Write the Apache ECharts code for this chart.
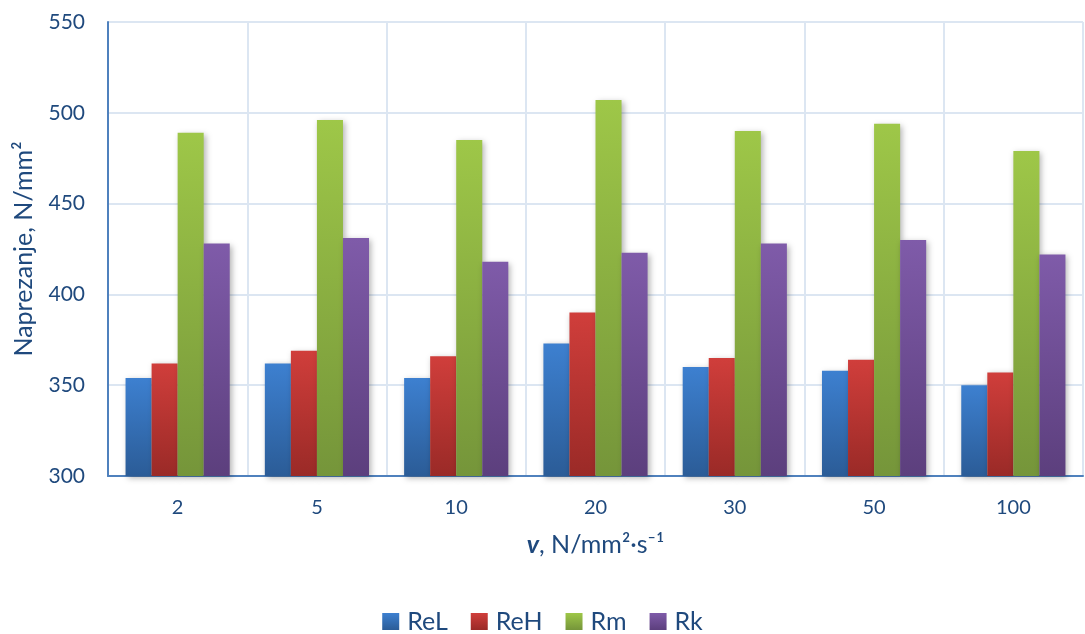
<!DOCTYPE html>
<html><head><meta charset="utf-8">
<script src="https://cdn.jsdelivr.net/npm/echarts@6/dist/echarts.min.js"></script>
<style>html,body{margin:0;padding:0;background:#fff}#c{width:1085px;height:634px}</style>
</head><body><div id="c"></div>
<script>
var categories = ['2', '5', '10', '20', '30', '50', '100'];
var seriesNames = ['ReL', 'ReH', 'Rm', 'Rk'];
var ReL = [354, 362, 354, 373, 360, 358, 350];
var ReH = [362, 369, 366, 390, 365, 364, 357];
var Rm  = [489, 496, 485, 507, 490, 494, 479];
var Rk  = [428, 431, 418, 423, 428, 430, 422];
var yTicks = [300, 350, 400, 450, 500, 550];

var values = [ReL, ReH, Rm, Rk];
var grads = [['#3d80d0', '#2b5c97'], ['#d03e3b', '#9a2a27'], ['#9ec748', '#75953a'], ['#7f5ba9', '#5c3f7d']];
var txt = '#1f497d';
var font = 'Lato, "Open Sans", sans-serif';

var chart = echarts.init(document.getElementById('c'));
chart.setOption({
  animation: false,
  textStyle: { fontFamily: font },
  grid: { left: 108, right: 2, top: 22, bottom: 158, containLabel: false, outerBoundsMode: 'none' },
  legend: {
    data: seriesNames, top: 604, left: 'center',
    itemWidth: 17, itemHeight: 17, itemGap: 23, icon: 'rect',
    textStyle: { color: txt, fontSize: 25, fontFamily: font, padding: [0, 0, 0, 3] }
  },
  xAxis: {
    type: 'category', data: categories,
    axisLine: { lineStyle: { color: '#4f81bd', width: 2 } },
    axisTick: { show: false },
    axisLabel: { color: txt, fontSize: 20, margin: 22, fontFamily: font },
    splitLine: { show: true, lineStyle: { color: '#dce6f2', width: 2 } },
    name: '{b|v}{n|, N/mm²·s⁻¹}', nameLocation: 'middle', nameGap: 56,
    nameTextStyle: { rich: {
      b: { fontWeight: 'bold', fontStyle: 'italic', fontSize: 25, color: txt, fontFamily: font },
      n: { fontSize: 25, color: txt, fontFamily: font }
    } }
  },
  yAxis: {
    type: 'value', min: 300, max: 550, interval: 50,
    axisLine: { show: true, lineStyle: { color: '#4f81bd', width: 2 } },
    axisTick: { show: false },
    axisLabel: { color: txt, fontSize: 21, margin: 23, fontFamily: font,
      formatter: function (v) { return yTicks.indexOf(v) >= 0 ? String(v) : ''; } },
    splitLine: { lineStyle: { color: '#dce6f2', width: 2 } },
    name: 'Naprezanje, N/mm²', nameLocation: 'middle', nameGap: 72, nameRotate: 90,
    nameTextStyle: { color: txt, fontSize: 25, fontFamily: font }
  },
  series: seriesNames.map(function (n, i) {
    return {
      name: n, type: 'bar', data: values[i],
      barWidth: '18.7%', barGap: '0%',
      itemStyle: {
        color: new echarts.graphic.LinearGradient(0, 0, 0, 1, [
          { offset: 0, color: grads[i][0] }, { offset: 1, color: grads[i][1] }]),
        shadowColor: 'rgba(0,0,0,0.3)', shadowBlur: 6, shadowOffsetX: 2, shadowOffsetY: 2
      }
    };
  })
});
</script></body></html>
